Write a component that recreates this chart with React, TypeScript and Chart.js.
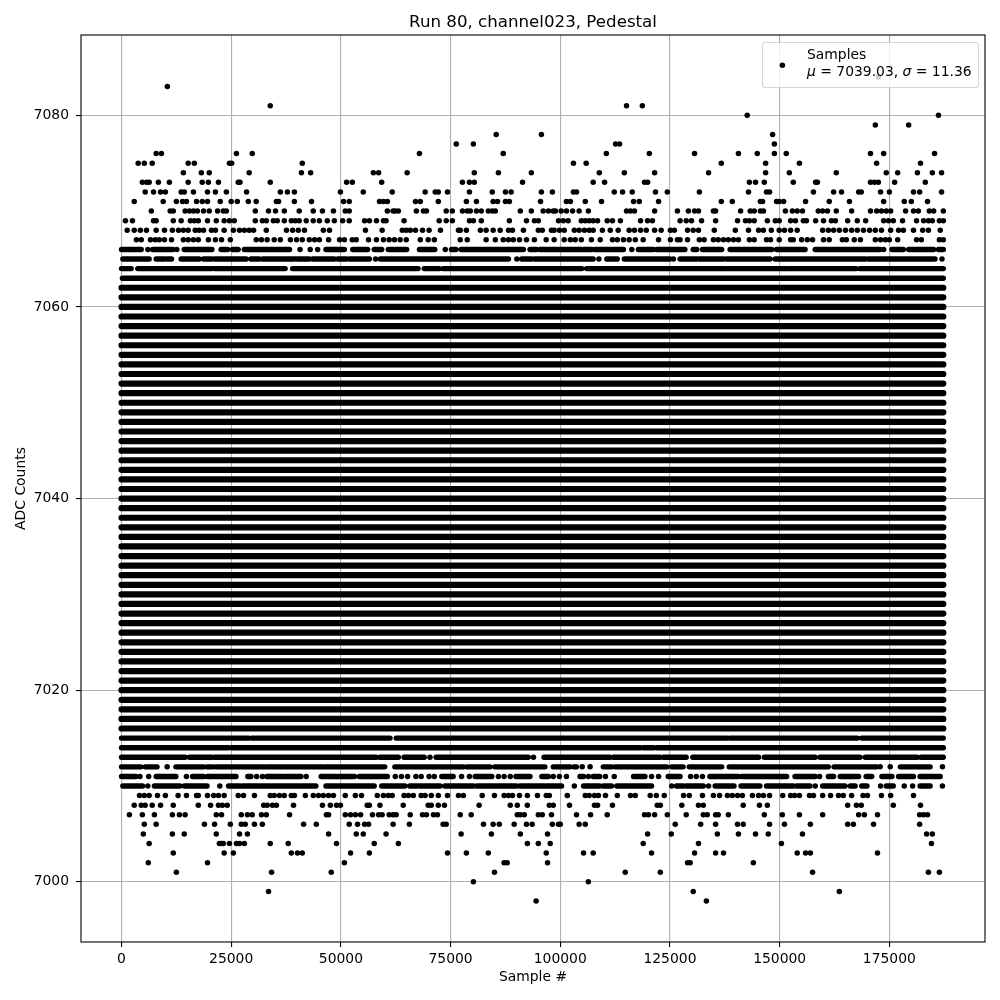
import React, { useEffect, useRef } from "react";
import { Chart, registerables } from "chart.js";

Chart.register(...registerables);

const chartTitle = "Run 80, channel023, Pedestal";
const xAxisTitle = "Sample #";
const yAxisTitle = "ADC Counts";
const legendLineOne = "Samples";
const legendMean = "7039.03";
const legendSigma = "11.36";
const xTicks = [0, 25000, 50000, 75000, 100000, 125000, 150000, 175000];
const yTicks = [7000, 7020, 7040, 7060, 7080];

// Isolated samples by ADC level: sample numbers in thousands.
const sparseLevels = [
  7084, 7083, 7081, 7080, 7079, 7078, 7077, 7076, 7075, 7074, 7073, 7072, 7071, 7070, 7069, 7068, 7067,
  7009, 7008, 7007, 7006, 7005, 7004, 7003, 7002, 7001, 7000, 6999, 6998,
];
const sparseSamplesK: number[][] = [
  [172.5],
  [10.45],
  [33.9, 115.1, 118.7],
  [142.6, 186.2],
  [171.8, 179.4],
  [85.4, 95.7, 148.4],
  [76.3, 80.2, 112.6, 113.5, 148.8],
  [7.9, 9.1, 26.2, 29.8, 67.9, 87.0, 110.5, 120.3, 130.6, 140.6, 144.9, 148.8, 151.5, 170.7, 173.7, 185.3],
  [3.8, 5.2, 7.0, 15.2, 16.6, 24.6, 25.1, 41.2, 103.0, 105.9, 136.7, 146.8, 154.5, 172.1, 182.1],
  [14.1, 18.2, 20.0, 29.1, 41.0, 43.1, 57.4, 58.6, 65.1, 80.4, 85.9, 93.4, 108.9, 114.6, 121.5, 133.8, 146.8, 152.2, 162.9, 174.3, 176.9, 181.4, 184.8, 186.9],
  [4.75, 5.7, 6.3, 8.4, 10.9, 15.2, 18.4, 19.8, 22.1, 26.6, 27.0, 33.9, 51.3, 52.6, 59.3, 77.7, 79.3, 80.4, 91.4, 107.5, 110.1, 119.2, 119.9, 143.1, 144.5, 146.5, 153.1, 158.2, 158.6, 170.7, 171.6, 172.5, 176.2, 183.2],
  [5.4, 7.3, 8.9, 10.0, 13.6, 14.3, 16.4, 19.6, 21.4, 23.9, 28.5, 36.2, 37.8, 39.4, 49.9, 55.1, 61.7, 69.2, 71.5, 72.2, 74.3, 79.3, 84.5, 87.5, 88.8, 95.7, 98.2, 103.0, 103.7, 112.3, 114.2, 116.4, 121.7, 124.4, 131.7, 142.9, 147.0, 147.7, 157.7, 162.3, 164.1, 168.0, 168.6, 173.0, 175.0, 180.5, 181.9, 186.9],
  [2.9, 9.5, 12.5, 13.9, 14.8, 17.1, 18.4, 19.6, 22.5, 25.0, 26.4, 28.9, 30.7, 35.3, 35.8, 39.4, 43.3, 50.6, 51.9, 58.8, 59.7, 60.6, 67.0, 68.1, 72.2, 78.6, 80.9, 84.7, 85.7, 87.5, 88.4, 95.5, 101.4, 102.3, 105.7, 109.4, 116.7, 118.0, 122.4, 136.7, 139.2, 145.6, 146.1, 149.3, 149.9, 150.9, 155.9, 161.3, 165.9, 173.7, 178.4, 180.0, 183.7],
  [6.8, 11.1, 11.8, 14.5, 15.5, 16.4, 17.3, 18.7, 20.0, 21.9, 23.2, 23.9, 30.5, 33.5, 35.1, 37.1, 40.5, 43.7, 45.8, 48.3, 51.0, 51.9, 60.6, 61.9, 62.4, 63.1, 67.2, 68.8, 69.5, 74.0, 75.4, 77.7, 78.8, 79.5, 80.9, 82.0, 83.6, 84.5, 85.2, 90.9, 93.4, 96.1, 97.3, 98.4, 98.9, 100.2, 101.4, 102.8, 104.3, 106.4, 115.1, 116.0, 116.9, 121.5, 126.7, 129.2, 130.6, 131.5, 134.9, 135.4, 141.1, 143.3, 144.2, 145.6, 146.3, 151.3, 152.9, 154.0, 155.2, 158.8, 159.8, 160.9, 162.9, 166.4, 170.7, 172.1, 173.2, 174.3, 175.3, 178.7, 180.5, 181.6, 184.1, 185.1, 187.3],
  [0.9, 2.5, 7.3, 7.9, 11.8, 13.6, 15.7, 16.6, 17.5, 19.6, 21.6, 23.4, 24.6, 25.7, 30.5, 32.1, 33.0, 34.6, 35.5, 37.1, 38.7, 39.6, 40.5, 42.1, 43.7, 45.1, 46.9, 48.5, 50.4, 51.9, 55.4, 56.5, 58.1, 59.7, 60.3, 64.4, 72.4, 74.0, 75.4, 79.3, 80.2, 82.0, 88.4, 92.3, 94.1, 95.0, 99.6, 100.7, 101.8, 104.8, 105.7, 106.6, 107.5, 108.5, 110.7, 111.9, 113.7, 118.3, 119.9, 121.0, 127.3, 128.7, 129.9, 132.2, 135.4, 140.4, 142.2, 143.1, 144.2, 147.2, 149.0, 149.9, 152.5, 153.6, 155.4, 156.1, 158.2, 160.0, 161.8, 162.7, 165.5, 167.7, 169.6, 173.7, 174.8, 175.9, 178.0, 181.2, 182.8, 183.9, 184.8, 186.4, 187.3],
  [1.3, 2.9, 4.3, 5.7, 7.9, 9.8, 11.6, 13.0, 14.1, 15.2, 16.8, 17.7, 18.7, 20.5, 21.4, 23.4, 25.5, 26.9, 28.0, 29.1, 30.1, 33.0, 37.6, 39.0, 40.3, 41.7, 46.0, 47.4, 55.6, 59.4, 64.0, 64.9, 65.8, 67.0, 68.6, 70.1, 72.7, 76.8, 77.2, 78.6, 81.8, 83.1, 84.7, 86.3, 88.2, 89.1, 91.6, 95.0, 95.9, 98.0, 98.6, 99.8, 100.9, 103.2, 104.3, 105.5, 106.6, 107.5, 109.6, 111.4, 113.2, 115.7, 116.9, 118.3, 119.6, 121.5, 123.0, 125.1, 126.0, 129.0, 130.3, 131.5, 135.1, 139.9, 142.9, 145.2, 146.3, 148.1, 149.9, 151.1, 152.5, 154.0, 159.8, 161.1, 162.3, 163.6, 165.0, 166.4, 167.7, 169.1, 170.5, 171.8, 173.2, 175.3, 177.1, 178.2, 180.5, 182.6, 183.9, 186.6],
  [3.4, 4.5, 6.6, 7.7, 8.6, 9.8, 11.4, 14.1, 15.2, 16.4, 17.5, 19.8, 21.4, 22.8, 24.8, 30.7, 31.9, 33.2, 34.8, 36.2, 38.5, 39.9, 41.2, 42.8, 44.0, 45.1, 47.2, 49.7, 50.8, 52.6, 53.5, 56.3, 58.1, 59.7, 61.0, 62.2, 63.5, 64.9, 68.1, 69.9, 71.3, 77.2, 78.8, 83.1, 85.2, 87.0, 88.2, 89.3, 90.7, 92.3, 94.1, 96.8, 98.6, 100.9, 102.3, 103.4, 104.8, 107.1, 109.1, 111.9, 113.0, 114.4, 115.7, 117.1, 118.9, 122.4, 125.1, 126.7, 127.3, 129.0, 131.7, 132.8, 134.9, 136.0, 137.2, 138.3, 139.5, 140.6, 143.1, 144.2, 147.0, 147.9, 149.9, 152.5, 153.1, 155.0, 156.3, 157.5, 160.0, 161.3, 164.3, 165.2, 167.0, 168.4, 171.8, 173.0, 174.1, 175.0, 176.9, 181.2, 182.3, 186.4, 187.3],
  [4.1, 5.2, 6.3, 8.2, 10.0, 12.9, 14.8, 17.1, 17.5, 19.6, 21.0, 22.1, 23.4, 26.6, 27.8, 30.3, 33.9, 34.8, 36.0, 37.1, 38.7, 39.4, 41.9, 43.7, 44.9, 46.0, 47.2, 48.3, 51.0, 53.3, 54.7, 58.3, 59.7, 60.8, 61.7, 64.4, 65.4, 66.5, 68.3, 69.2, 70.6, 72.2, 74.3, 76.8, 77.9, 82.2, 85.0, 87.2, 88.2, 89.1, 90.7, 92.5, 94.8, 96.8, 97.5, 101.6, 105.7, 106.6, 107.8, 108.7, 110.3, 113.0, 116.0, 117.1, 120.5, 121.9, 123.7, 128.1, 129.4, 132.4, 134.9, 136.3, 138.1, 139.2, 140.4, 141.5, 143.8, 145.2, 146.3, 147.7, 150.7, 152.5, 153.4, 154.5, 156.8, 157.7, 159.8, 161.6, 163.4, 164.5, 166.4, 169.0, 170.0, 173.2, 175.3, 180.5],
  [2.9, 4.5, 5.4, 7.0, 8.9, 11.8, 17.5, 20.3, 22.1, 23.0, 24.1, 32.4, 33.2, 34.4, 35.3, 39.2, 45.8, 47.6, 49.0, 49.9, 56.0, 56.5, 58.9, 64.2, 69.9, 70.6, 72.2, 73.6, 81.5, 88.6, 90.2, 92.5, 97.5, 98.4, 102.1, 107.8, 108.5, 111.9, 122.1, 122.8, 127.7, 131.5, 132.6, 141.7, 145.4, 147.2, 165.5, 167.5, 168.6, 175.9, 182.1],
  [1.8, 4.75, 7.5, 11.6, 13.2, 14.5, 21.6, 22.8, 27.3, 28.7, 29.8, 31.9, 33.0, 38.3, 46.7, 47.2, 51.0, 52.2, 53.3, 54.5, 57.2, 58.6, 59.4, 61.0, 61.9, 62.6, 65.8, 68.6, 69.5, 71.1, 72.0, 77.2, 79.7, 90.2, 90.9, 91.8, 95.0, 95.9, 98.0, 103.7, 106.9, 110.7, 119.2, 120.1, 121.5, 124.4, 128.7, 132.6, 133.5, 135.4, 136.0, 138.3, 146.5, 150.6, 154.5, 159.8, 168.0, 169.3, 172.3, 181.9, 182.8, 183.7],
  [5.2, 7.9, 18.9, 21.2, 24.8, 27.3, 28.2, 30.3, 32.1, 41.5, 44.4, 51.9, 53.8, 55.4, 56.3, 61.9, 65.6, 73.3, 74.0, 82.5, 84.7, 86.1, 89.5, 92.3, 93.6, 98.2, 99.6, 100.0, 104.3, 105.7, 126.2, 132.0, 135.4, 140.4, 141.7, 147.7, 151.1, 157.0, 165.5, 166.8, 171.4, 181.9],
  [4.97, 11.6, 14.3, 21.6, 26.9, 28.7, 47.2, 53.5, 55.1, 60.3, 77.4, 84.3, 90.9, 97.1, 119.9, 125.3, 135.8, 140.6, 144.5, 147.4, 155.2, 183.5, 184.8],
  [6.3, 22.3, 22.8, 23.2, 24.6, 26.2, 26.9, 28.0, 33.9, 38.0, 49.0, 57.6, 63.1, 92.5, 95.0, 97.7, 118.9, 131.5, 150.4, 184.6],
  [11.8, 23.4, 25.5, 38.7, 40.1, 41.2, 52.2, 56.5, 74.3, 78.6, 83.6, 96.8, 105.3, 107.5, 120.8, 130.6, 135.4, 137.2, 154.0, 155.9, 157.0, 172.3],
  [6.1, 19.6, 50.8, 87.2, 87.9, 97.1, 129.0, 129.6, 144.0],
  [12.5, 34.2, 47.8, 85.0, 114.8, 122.8, 157.5, 183.9, 186.4],
  [80.2, 106.4],
  [33.5, 130.3, 163.6],
  [94.5, 133.3],
];

// Levels where samples merge into streaks: a number is one dot, a pair is a streak.
type Span = number | [number, number];
const streakLevels = [
  7066, 7065, 7064, 7063, 7062, 7061, 7060, 7059, 7058, 7057, 7056, 7055, 7054, 7053, 7052, 7051, 7050, 7049, 7048,
  7047, 7046, 7045, 7044, 7043, 7042, 7041, 7040, 7039, 7038, 7037, 7036, 7035, 7034, 7033, 7032, 7031, 7030, 7029,
  7028, 7027, 7026, 7025, 7024, 7023, 7022, 7021, 7020, 7019, 7018, 7017, 7016, 7015, 7014, 7013, 7012, 7011, 7010,
];
const wholeRow: Span[] = [[0, 187.3]];
const streakSpansK: Span[][] = [
  [[0, 4.5], 6, [7.1, 11.7], 12.6, [14.3, 20.6], [22.7, 24.2], [25.3, 26.6], [28, 38.3], 40.7, 43, 44.7, [46.6, 50.8], [52.7, 56.1], [57.6, 59.3], [60.8, 65], [67.9, 71.4], 73.8, [75.2, 76.2], [77.4, 91.6], [93.1, 94.6], [95.4, 104.9], [105.3, 107.2], [107.9, 114.4], 116.3, [117.8, 121.2], [122, 128.4], [130.3, 131.1], [132.4, 136.8], [138.7, 148.2], [149.3, 155.8], [158.1, 172.9], 173.7, [175.6, 178.2], [179.4, 185.1], [186.2, 187.3]],
  [[0.3, 6.3], [7.9, 9.8], [10.4, 11.4], [13.6, 17.7], [18.7, 20.6], [21.3, 28.4], [29.5, 31.4], [32.2, 39.4], [40, 42.8], [43.6, 48.5], [49.3, 51.2], [51.9, 56.5], 57.9, [59, 88.2], 90.1, [91.2, 93.5], [94.2, 107.5], 108.8, [110.6, 113], [114.6, 125], 125.8, [127.3, 131.1], [131.7, 137.2], [137.9, 147.8], [149, 169.5], [170.2, 185.4], 187],
  [[0, 2.2], [3.7, 20.6], [21.2, 37.3], [39, 67.6], [69, 72.4], [73.3, 104.9], [106, 137.5], [138, 151.5], [152, 167.4], [168.3, 187.3]],
  [[0.2, 187.3]], wholeRow, wholeRow, wholeRow, wholeRow, wholeRow, wholeRow, wholeRow, wholeRow, wholeRow, wholeRow, wholeRow, wholeRow, wholeRow,
  wholeRow, wholeRow, wholeRow, wholeRow, wholeRow, wholeRow, wholeRow, wholeRow, wholeRow, wholeRow, wholeRow, wholeRow, wholeRow, wholeRow, wholeRow,
  wholeRow, wholeRow, wholeRow, wholeRow, wholeRow, wholeRow, wholeRow, wholeRow, wholeRow, wholeRow, wholeRow, wholeRow, wholeRow, wholeRow,
  wholeRow, wholeRow, wholeRow, wholeRow, wholeRow,
  [[0, 29], [29.7, 61.2], [62.6, 138], [138.6, 167.7], [168.7, 187.3]],
  [[0, 24.3], [25, 118.3], [119, 121.3], [122, 187.3]],
  [[0, 14.5], [15.5, 20.6], [21.2, 58], [58.9, 63.1], [64.4, 69], 70.3, [71.7, 92.7], 93.9, [96.3, 111.3], [112.1, 122.7], [123.5, 128.7], [130.2, 145.2], [146.5, 158.1], [159.2, 168.3], [169.5, 181.3], [182.2, 187.3]],
  [[0, 4.4], [5.4, 8.1], 10.4, [12.4, 18.7], [19.5, 20.8], [21.5, 32.6], [33.1, 46.1], [46.6, 60], [62.3, 77.9], [78.7, 84], [85.1, 96.5], [98.4, 102.2], [103.1, 103.7], 105, 106.8, [109.8, 111.7], [112.5, 124.3], [125.4, 128], [129.4, 136.8], [138.5, 161.1], [162.4, 172.1], 172.9, 175.2, [177.5, 184.3], 187.1],
  [[0, 3.3], 4.2, 6.2, [7.9, 12.4], 14.8, [16.2, 18.7], [19.6, 26.1], [28.8, 29.5], 30.8, 32.1, [33.1, 36.6], [37.1, 40.9], 42.1, [45.5, 48.9], [49.4, 52.7], 53.1, [54.2, 60.6], 62.4, 63.8, 65.2, 67.1, 68.3, 70.1, 71.3, [73, 75.6], 77.5, 79.3, [80.6, 84.4], 85.9, 87.2, 88.6, [89.9, 93.1], [95.8, 97.3], 98.4, 99.8, 101.4, [104.5, 105.3], 106.4, [107.5, 109], 110.3, 112.3, [116.7, 119.3], 120.8, 122.4, [124.6, 127.3], 129.7, 131, 132.4, [134.1, 140.6], [141.4, 151.6], [153.5, 158.1], 159.1, [161.1, 162.3], [163.8, 168], [169.7, 171], [173.3, 175.6], [177.1, 180.5], [182, 186.6]],
  [[0.3, 4.8], 6, [7.5, 13.3], [14.3, 19.5], 22.4, [24.4, 27.1], [27.6, 44.3], [46.6, 57.6], [59.3, 64.6], [65.7, 67.4], [68, 72.6], [73.7, 80.2], [81, 90], [90.8, 100.3], 103.2, [105.3, 109], [109.8, 111.7], [112.9, 120.8], 125.4, [126.5, 128], [128.7, 132.6], 133.8, [135.3, 139.6], [141.2, 145.5], [147, 153.1], [153.9, 156.9], 158.1, [159.8, 164.9], [166.1, 167.2], [168.7, 169.9], 173, [174.3, 175.9], 178.4, 180.3, [182, 184.3], 187.1],
  [[0.9, 2.2], 5.2, [6, 8.1], [10.5, 12], 13.9, 15.5, 17.3, 19.1, 20.3, [24.6, 33.7], [36.4, 37.7], 42.1, [43.7, 46.2], 47.8, 50.4, 51.9, [53.5, 55.6], [57.9, 58.9], 61, [62.5, 63.8], 65.4, [67.1, 68], 70.4, 74.3, 76.5, 79.9, [81.5, 82.2], 84.1, [87.8, 90.2], 91.8, [93.6, 96.1], 102.5, [103.7, 105], 106.4, [107.5, 109], 110.3, [111.9, 114.2], 116.4, 118.4, [120.1, 122], [123.1, 127.7], [128.4, 129.2], [130, 131.5], 135.4, [136.8, 137.9], [139.1, 140.2], [141.7, 142.9], [143.6, 149], [153.5, 154.7], [155.8, 157.3], [160.4, 161.5], [164.3, 166.1], 167, 168.4, 170, [171.8, 176.7], 179.6, 185.2, 186.7],
];

const toK = (k: number) => k * 1000;

const dotPoints: { x: number; y: number }[] = [];
sparseLevels.forEach((level, i) => {
  sparseSamplesK[i].forEach((s) => dotPoints.push({ x: toK(s), y: level }));
});
const solidRowPoints: { x: number; y: number }[] = [];
const brokenRowPoints: { x: number; y: number }[] = [];
streakLevels.forEach((level, i) => {
  const spans = streakSpansK[i];
  const target = spans === wholeRow ? solidRowPoints : brokenRowPoints;
  spans.forEach((span) => {
    if (typeof span === "number") {
      dotPoints.push({ x: toK(span), y: level });
    } else {
      target.push({ x: toK(span[0]), y: level }, { x: toK(span[1]), y: level }, { x: NaN, y: NaN });
    }
  });
});

const FONT = "'DejaVu Sans'";
const TICK_PX = 13.9;

const framePlugin = {
  id: "frame",
  afterDatasetsDraw(chart: any) {
    const { ctx, chartArea: a } = chart;
    ctx.save();
    ctx.strokeStyle = "#000";
    ctx.lineWidth = 1.1;
    ctx.strokeRect(a.left, a.top, a.right - a.left, a.bottom - a.top);

    // legend box
    ctx.beginPath();
    ctx.roundRect(762.5, 42.5, 216, 45, 3);
    ctx.fillStyle = "rgba(255,255,255,0.8)";
    ctx.fill();
    ctx.strokeStyle = "rgba(204,204,204,0.8)";
    ctx.lineWidth = 1.1;
    ctx.stroke();
    ctx.fillStyle = "#000";
    ctx.beginPath();
    ctx.arc(782.4, 65.2, 2.75, 0, Math.PI * 2);
    ctx.fill();
    ctx.textBaseline = "alphabetic";
    ctx.textAlign = "left";
    const regular = `${TICK_PX}px ${FONT}`;
    const italic = `italic ${TICK_PX}px ${FONT}`;
    ctx.font = regular;
    ctx.fillText(legendLineOne, 807, 59);
    let x = 807;
    const parts: [string, string][] = [
      ["μ", italic],
      [` = ${legendMean}, `, regular],
      ["σ", italic],
      [` = ${legendSigma}`, regular],
    ];
    parts.forEach(([t, f]) => {
      ctx.font = f;
      ctx.fillText(t, x, 76);
      x += ctx.measureText(t).width;
    });
    ctx.restore();
  },
};

export default function App() {
  const ref = useRef<HTMLCanvasElement>(null);
  useEffect(() => {
    if (!ref.current) return;
    const font = { family: FONT, size: TICK_PX };
    const chart = new Chart(ref.current, {
      type: "scatter",
      data: {
        datasets: [
          {
            label: "Samples",
            data: solidRowPoints,
            showLine: true,
            spanGaps: false,
            pointRadius: 0,
            borderColor: "#000",
            borderWidth: 6.2,
            borderCapStyle: "round",
          },
          {
            label: "Samples",
            data: brokenRowPoints,
            showLine: true,
            spanGaps: false,
            pointRadius: 0,
            borderColor: "#000",
            borderWidth: 5.4,
            borderCapStyle: "round",
          },
          {
            label: "Samples",
            data: dotPoints,
            showLine: false,
            pointRadius: 2.75,
            pointBorderWidth: 0,
            pointBackgroundColor: "#000",
          },
        ],
      },
      options: {
        animation: false,
        responsive: false,
        devicePixelRatio: 1,
        layout: { padding: { left: 0, right: 15, top: 0, bottom: 0 } },
        plugins: {
          legend: { display: false },
          tooltip: { enabled: false },
          title: {
            display: true,
            text: chartTitle,
            fullSize: false,
            color: "#000",
            font: { family: FONT, size: 16.67, weight: "normal", lineHeight: 1.2 },
            padding: { top: 13, bottom: 2 },
          },
        },
        scales: {
          x: {
            type: "linear",
            bounds: "data",
            min: -9230,
            max: 196800,
            afterFit: (s: any) => {
              s.height = 58;
            },
            afterBuildTicks: (s: any) => {
              s.ticks = xTicks.map((value) => ({ value }));
            },
            grid: { color: "#b0b0b0", lineWidth: 1.1, tickColor: "#000", tickLength: 5 },
            border: { display: false },
            ticks: { color: "#000", font, padding: 4, maxRotation: 0, autoSkip: false, callback: (v: any) => String(v) },
            title: { display: true, text: xAxisTitle, color: "#000", font, padding: { top: 4, bottom: 14 } },
          },
          y: {
            type: "linear",
            bounds: "data",
            min: 6993.72,
            max: 7088.38,
            afterFit: (s: any) => {
              s.width = 81;
            },
            afterBuildTicks: (s: any) => {
              s.ticks = yTicks.map((value) => ({ value }));
            },
            grid: { color: "#b0b0b0", lineWidth: 1.1, tickColor: "#000", tickLength: 5 },
            border: { display: false },
            ticks: { color: "#000", font, padding: 7, autoSkip: false, callback: (v: any) => String(v) },
            title: { display: true, text: yAxisTitle, color: "#000", font, padding: { top: 13, bottom: 0 } },
          },
        },
      },
      plugins: [framePlugin],
    } as any);
    return () => chart.destroy();
  }, []);
  return (
    <div style={{ position: "absolute", left: 0, top: 0, width: 1000, height: 1000 }}>
      <canvas ref={ref} width={1000} height={1000} style={{ display: "block" }} />
    </div>
  );
}
